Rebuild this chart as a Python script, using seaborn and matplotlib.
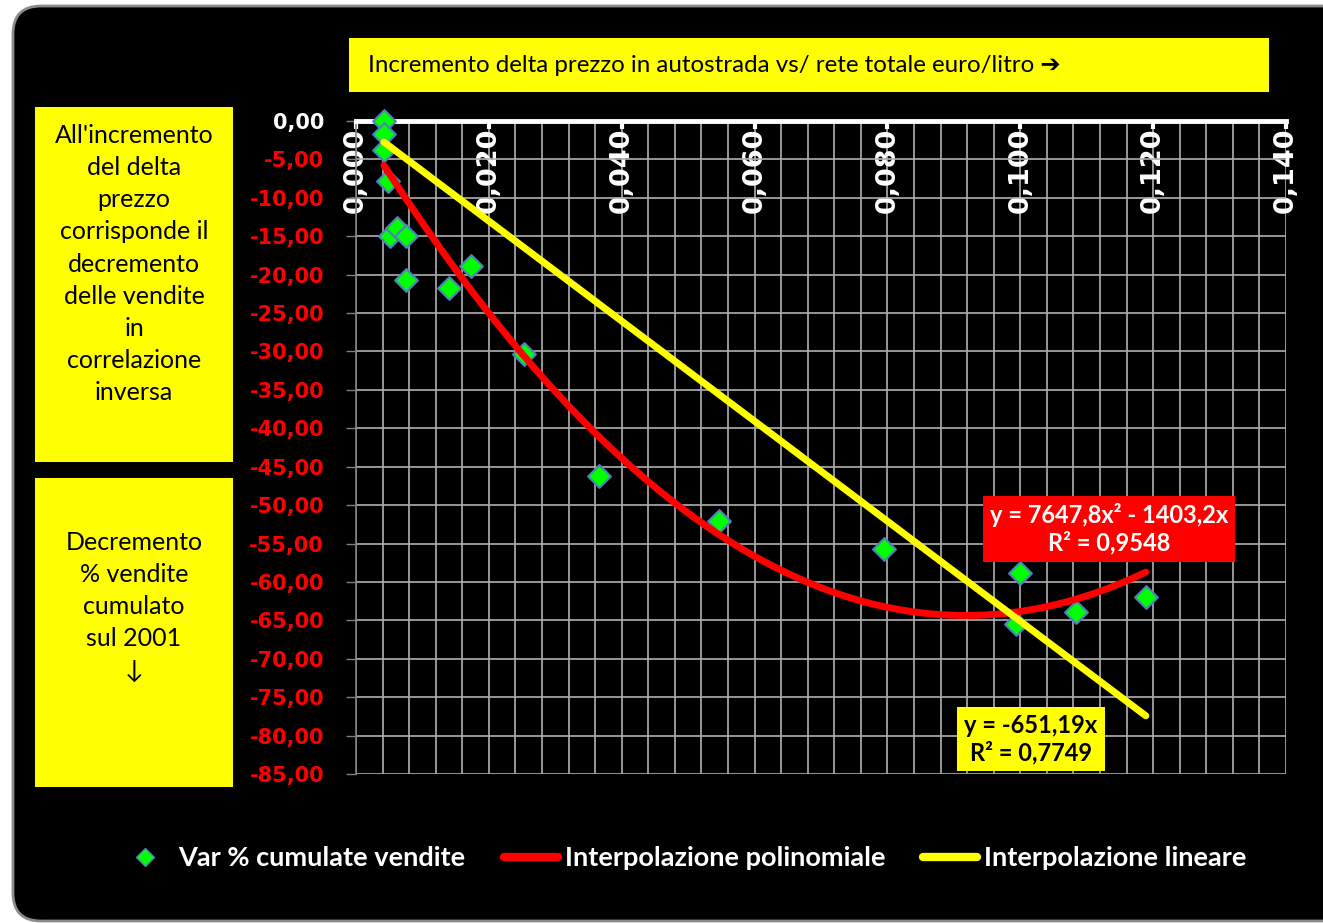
import numpy as np
import matplotlib
matplotlib.use("Agg")
import matplotlib.pyplot as plt
import seaborn as sns
from matplotlib.patches import FancyBboxPatch, Rectangle
from matplotlib.lines import Line2D
from matplotlib.ticker import MultipleLocator

# delta prezzo autostrada vs rete totale (euro/litro) vs var % cumulata vendite
delta_prezzo = [0.0042, 0.0042, 0.0042, 0.0048, 0.0051, 0.0062, 0.0075, 0.0075,
                0.0140, 0.0173, 0.0253, 0.0366, 0.0546, 0.0795, 0.0999, 0.0993,
                0.1084, 0.1189]
var_vendite = [0.0, -1.7, -3.8, -7.8, -15.0, -13.9, -15.0, -20.7,
               -21.8, -18.9, -30.3, -46.2, -52.1, -55.7, -58.8, -65.5,
               -63.9, -61.9]

# trendline coefficients as printed on the chart
poly_coef = [7647.8, -1403.2, 0.0]
lin_coef = [-651.19, 0.0]

x_ticks = [0.0, 0.02, 0.04, 0.06, 0.08, 0.10, 0.12, 0.14]
x_ticklabels = ["0,000", "0,020", "0,040", "0,060", "0,080", "0,100", "0,120", "0,140"]
y_ticks = list(range(-85, 1, 5))
y_ticklabels = [f"{v:.2f}".replace(".", ",") for v in y_ticks]

legend_labels = ["Var % cumulate vendite", "Interpolazione polinomiale", "Interpolazione lineare"]
title_text = "Incremento delta prezzo in autostrada vs/ rete totale euro/litro \u2794"
box1_lines = ["All'incremento", "del delta", "prezzo", "corrisponde il", "decremento",
              "delle vendite", "in", "correlazione", "inversa"]
box2_lines = ["Decremento", "% vendite", "cumulato", "sul 2001", "\u2193"]
poly_label = "y = 7647,8x\u00b2 - 1403,2x\nR\u00b2 = 0,9548"
lin_label = "y = -651,19x\nR\u00b2 = 0,7749"

sns.set_style("whitegrid")
plt.rcParams["font.family"] = ["Lato", "DejaVu Sans"]

W, H = 1323, 923
fig = plt.figure(figsize=(W / 100, H / 100), dpi=100, facecolor="white")

# black rounded chart area
fig.patches.append(FancyBboxPatch((0.13, 0.02), 13.6, 9.15,
                                  boxstyle="round,pad=0,rounding_size=0.28",
                                  transform=fig.dpi_scale_trans, facecolor="black",
                                  edgecolor="#8c8c8c", lw=2, figure=fig, zorder=-5))


def px_rect(x0, y0, x1, y1, color):
    fig.patches.append(Rectangle((x0 / W, 1 - y1 / H), (x1 - x0) / W, (y1 - y0) / H,
                                 transform=fig.transFigure, facecolor=color,
                                 edgecolor="none", figure=fig, zorder=1))


ax = fig.add_axes([356 / W, 149 / H, 930 / W, 653 / H])
ax.set_facecolor("black")

sns.scatterplot(x=delta_prezzo, y=var_vendite, marker="D", s=135, color="#00ff00",
                edgecolor="#4f81bd", linewidth=1.5, zorder=3, clip_on=False, ax=ax)

xs = np.linspace(min(delta_prezzo), max(delta_prezzo), 200)
sns.lineplot(x=xs, y=np.polyval(poly_coef, xs), color="#ff0000", lw=5,
             solid_capstyle="round", zorder=4, ax=ax)
sns.lineplot(x=xs, y=np.polyval(lin_coef, xs), color="#ffff00", lw=5,
             solid_capstyle="round", zorder=5, ax=ax)

ax.set_xlim(0, 0.14)
ax.set_ylim(-85, 0)

# x axis on top, labels hanging inside the plot
ax.xaxis.set_ticks_position("top")
ax.set_xticks(x_ticks, labels=x_ticklabels)
ax.xaxis.set_minor_locator(MultipleLocator(0.004))
ax.tick_params(axis="x", which="major", top=True, bottom=False, labeltop=True,
               labelbottom=False, direction="in", length=6, width=3, color="white",
               labelcolor="white", pad=-66, labelrotation=90)
ax.tick_params(axis="x", which="minor", length=0)
for lbl in ax.get_xticklabels():
    lbl.set_fontfamily("DejaVu Sans")
    lbl.set_fontweight("bold")
    lbl.set_fontsize(19.5)

ax.set_yticks(y_ticks, labels=y_ticklabels)
ax.tick_params(axis="y", which="major", left=True, direction="out", length=7,
               width=1, color="#808080", labelcolor="#ff0000", pad=16)
for lbl in ax.get_yticklabels():
    lbl.set_fontfamily("DejaVu Sans")
    lbl.set_fontweight("bold")
    lbl.set_fontsize(15)
ax.get_yticklabels()[-1].set_color("white")

ax.grid(False)
ax.grid(which="both", axis="x", color="#b0b0b0", lw=1.2)
ax.grid(which="major", axis="y", color="#b0b0b0", lw=1.2)
ax.set_axisbelow(True)

for side in ["right", "bottom"]:
    ax.spines[side].set_visible(False)
ax.spines["top"].set_color("white")
ax.spines["top"].set_linewidth(3.5)
ax.spines["left"].set_color("#808080")
ax.spines["left"].set_linewidth(1.2)
ax.set_xlabel("")
ax.set_ylabel("")

# yellow / red boxes
px_rect(349, 38, 1269, 92, "#ffff00")
px_rect(35, 107, 233, 462, "#ffff00")
px_rect(35, 478, 233, 787, "#ffff00")
fig.text(368 / W, 1 - 65 / H, title_text, ha="left", va="center", fontsize=17.4,
         color="black")
fig.text(134 / W, 1 - 264 / H, "\n".join(box1_lines), ha="center", va="center",
         fontsize=18, linespacing=1.48, color="black")
fig.text(134 / W, 1 - 607 / H, "\n".join(box2_lines), ha="center", va="center",
         fontsize=18, linespacing=1.48, color="black")

ax.text(1109 / W, 1 - 529 / H, poly_label, transform=fig.transFigure, ha="center",
        va="center", fontsize=17, fontweight="bold", color="white", linespacing=1.2,
        zorder=10, bbox=dict(boxstyle="square,pad=0.3", facecolor="#ff0000",
                             edgecolor="none"))
ax.text(1031 / W, 1 - 739 / H, lin_label, transform=fig.transFigure, ha="center",
        va="center", fontsize=17, fontweight="bold", color="black", linespacing=1.2,
        zorder=10, bbox=dict(boxstyle="square,pad=0.3", facecolor="#ffff00",
                             edgecolor="none"))

handles = [Line2D([], [], marker="D", ls="none", color="#00ff00", mec="#4f81bd", ms=9),
           Line2D([], [], color="#ff0000", lw=6, solid_capstyle="round"),
           Line2D([], [], color="#ffff00", lw=6, solid_capstyle="round")]
fig.legend(handles, legend_labels, loc="center", bbox_to_anchor=(682 / W, 1 - 858 / H),
           ncol=3, frameon=False, handlelength=2.0, handletextpad=0.25,
           columnspacing=1.4, labelcolor="white",
           prop=dict(weight="bold", size=19.5))

fig.savefig("out.png", dpi=100, facecolor="white")
